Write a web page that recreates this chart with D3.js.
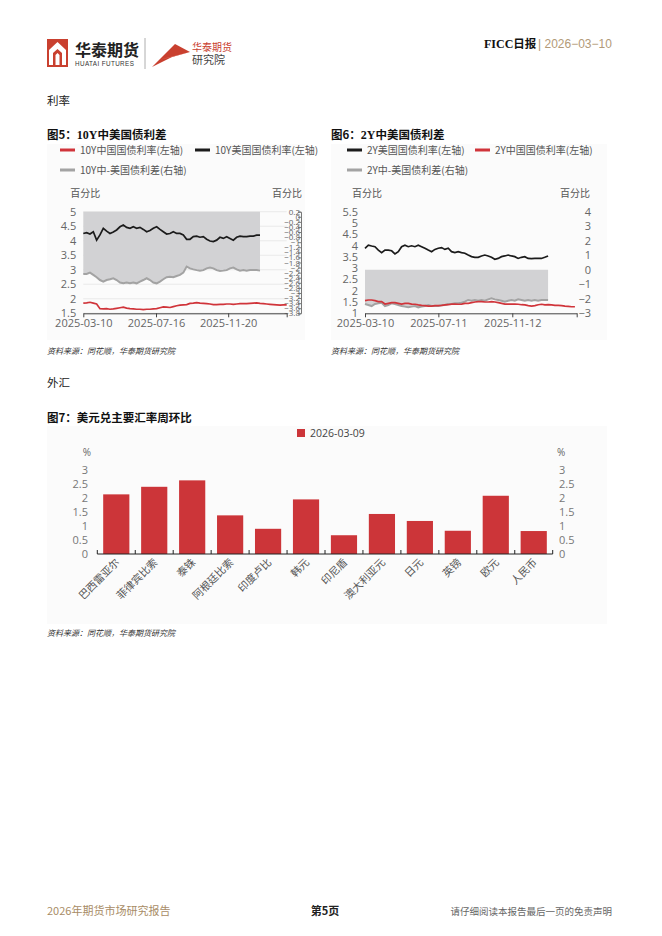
<!DOCTYPE html>
<html>
<head>
<meta charset="utf-8">
<script src="https://cdn.jsdelivr.net/npm/d3@7"></script>
<style>
  body { margin: 0; background: #fff; }
  svg { display: block; }
  .cn { font-family: "Noto Sans CJK SC", "Noto Sans", sans-serif; }
  .num { font-family: "Open Sans", "Noto Sans", sans-serif; }
</style>
</head>
<body>
<svg id="page" width="662" height="936"></svg>
<script>
// ---- data ----
// chart 5: 10Y yields (left axis) and spread (right axis)
const us10 = [4.25,4.28,4.23,4.31,4.02,4.20,4.43,4.33,4.25,4.30,4.37,4.48,4.54,4.46,4.43,4.48,4.43,4.46,4.39,4.31,
  4.35,4.43,4.48,4.39,4.31,4.23,4.25,4.31,4.25,4.25,4.20,4.05,4.05,4.14,4.16,4.12,4.14,4.05,3.99,3.97,
  4.02,4.12,4.08,4.14,4.08,4.02,4.12,4.16,4.14,4.14,4.16,4.16,4.19,4.19];
const cn10 = [1.85,1.86,1.88,1.85,1.82,1.66,1.65,1.66,1.64,1.65,1.67,1.69,1.71,1.68,1.66,1.65,1.64,1.64,1.63,1.64,
  1.64,1.65,1.66,1.69,1.72,1.71,1.70,1.73,1.76,1.78,1.79,1.80,1.84,1.85,1.87,1.85,1.84,1.83,1.82,1.80,
  1.80,1.81,1.81,1.82,1.82,1.81,1.82,1.83,1.83,1.83,1.84,1.85,1.86,1.84,1.83,1.82,1.81,1.80,1.79,1.78,1.79,1.79];
const spread10 = [-2.25,-2.25,-2.20,-2.29,-2.38,-2.49,-2.55,-2.49,-2.46,-2.42,-2.49,-2.59,-2.62,-2.59,-2.62,-2.59,-2.62,-2.55,-2.49,-2.42,
  -2.49,-2.59,-2.62,-2.55,-2.46,-2.38,-2.36,-2.38,-2.33,-2.29,-2.20,-1.96,-2.03,-2.07,-2.10,-2.12,-2.10,-2.03,-2.00,-2.03,
  -2.10,-2.13,-2.12,-2.10,-2.03,-2.00,-2.07,-2.12,-2.10,-2.12,-2.10,-2.10,-2.10,-2.12];
const ticks5 = ["2025-03-10","2025-07-16","2025-11-20"];

// chart 6: 2Y yields (left axis) and spread (right axis)
const us2 = [3.88,4.02,3.98,3.95,3.80,3.69,3.80,3.80,3.77,3.63,3.73,3.95,4.02,3.95,3.99,3.95,4.02,3.95,3.88,3.80,
  3.73,3.83,3.88,3.91,3.83,3.88,3.73,3.69,3.73,3.69,3.66,3.58,3.51,3.48,3.48,3.54,3.58,3.54,3.48,3.39,
  3.43,3.51,3.54,3.58,3.54,3.51,3.43,3.48,3.51,3.43,3.42,3.43,3.43,3.43,3.48,3.54];
const cn2 = [1.56,1.59,1.59,1.56,1.52,1.52,1.41,1.44,1.47,1.47,1.44,1.41,1.44,1.44,1.41,1.40,1.37,1.35,1.34,1.32,
  1.32,1.34,1.34,1.35,1.37,1.38,1.41,1.41,1.40,1.41,1.44,1.44,1.47,1.50,1.52,1.52,1.50,1.50,1.52,1.50,
  1.47,1.44,1.41,1.41,1.41,1.41,1.40,1.38,1.37,1.34,1.32,1.34,1.38,1.40,1.37,1.38,1.37,1.35,1.35,1.34,
  1.32,1.31,1.29,1.29];
const spread2 = [-2.36,-2.43,-2.50,-2.36,-2.31,-2.27,-2.50,-2.43,-2.31,-2.36,-2.43,-2.50,-2.54,-2.59,-2.54,-2.50,-2.59,-2.54,-2.50,-2.43,
  -2.50,-2.50,-2.50,-2.45,-2.43,-2.36,-2.36,-2.31,-2.31,-2.27,-2.20,-2.08,-2.13,-2.08,-2.13,-2.08,-2.13,-2.04,-1.97,-2.04,
  -2.08,-2.13,-2.20,-2.13,-2.08,-2.13,-2.04,-2.08,-2.13,-2.08,-2.13,-2.08,-2.13,-2.08,-2.08,-2.08];
const ticks6 = ["2025-03-10","2025-07-11","2025-11-12"];

// chart 7: weekly change of USD vs major currencies
const currencies = ["巴西雷亚尔","菲律宾比索","泰铢","阿根廷比索","印度卢比","韩元","印尼盾","澳大利亚元","日元","英镑","欧元","人民币"];
const fxChange = [2.13,2.40,2.63,1.38,0.90,1.95,0.67,1.43,1.18,0.83,2.08,0.82];
const fxTicks = [0,0.5,1,1.5,2,2.5,3];

const RED = "#d0343a", BLACK = "#1b1b1b", GREYLINE = "#a3a3a3", AREA = "#d2d2d4";
const parse = d3.timeParse("%Y-%m-%d");
const fmt = d3.timeFormat("%Y-%m-%d");
const svg = d3.select("#page");

// evenly spread a series between two dates
function series(vals, start, end) {
  const s = parse(start), e = parse(end);
  const t = d3.scaleLinear().domain([0, vals.length - 1]).range([s, e]);
  return vals.map((v, i) => ({ d: new Date(t(i)), v: v }));
}

// ---- header ----
const logo = svg.append("g");
logo.append("rect").attr("x", 47).attr("y", 39).attr("width", 21).attr("height", 28).attr("fill", "#c9402f");
logo.append("path").attr("d", "M49,50 L57.5,42 L66,50 L66,65 L62,65 L62,53 L57.5,49 L53,53 L53,65 L49,65 Z").attr("fill", "#fff");
logo.append("path").attr("d", "M55.5,55 L57.5,53 L59.5,55 L59.5,65 L55.5,65 Z").attr("fill", "#fff");
logo.append("text").attr("class", "cn").attr("x", 75).attr("y", 56).attr("font-size", 16).attr("font-weight", 700)
  .attr("fill", "#222").text("华泰期货");
logo.append("text").attr("x", 75).attr("y", 66).attr("font-family", "Liberation Sans, sans-serif").attr("font-size", 6.3)
  .attr("fill", "#333").attr("letter-spacing", 0.4).text("HUATAI FUTURES");
logo.append("line").attr("x1", 145).attr("x2", 145).attr("y1", 38).attr("y2", 69).attr("stroke", "#999").attr("stroke-width", 0.8);
logo.append("path").attr("d", "M152,67 L175,44 L190,52 L172,57 Z").attr("fill", "#c9402f");
logo.append("path").attr("d", "M158,60 L190,52 L172,57 Z").attr("fill", "#e07060");
logo.append("text").attr("class", "cn").attr("x", 192).attr("y", 51).attr("font-size", 10).attr("fill", "#c9402f").text("华泰期货");
logo.append("text").attr("class", "cn").attr("x", 192).attr("y", 64).attr("font-size", 11).attr("fill", "#444").text("研究院");

svg.append("text").attr("x", 484).attr("y", 48).attr("font-size", 12).attr("font-weight", 700)
  .attr("font-family", "Liberation Serif, serif").attr("fill", "#111")
  .call(t => {
    t.append("tspan").text("FICC");
    t.append("tspan").attr("class", "cn").attr("font-size", 11.5).text("日报");
  });
svg.append("text").attr("x", 538).attr("y", 48).attr("font-size", 12).attr("fill", "#b29a78")
  .attr("font-family", "Liberation Sans, sans-serif").text("| 2026−03−10");

// ---- section titles ----
function label(x, y, txt, size, opts) {
  const t = svg.append("text").attr("class", "cn").attr("x", x).attr("y", y).attr("font-size", size)
    .attr("fill", (opts && opts.fill) || "#222").text(txt);
  if (opts && opts.bold) t.attr("font-weight", 700);
  if (opts && opts.anchor) t.attr("text-anchor", opts.anchor);
  if (opts && opts.italic) t.attr("font-style", "italic");
  return t;
}
label(47, 105, "利率", 11.5);
label(47, 387, "外汇", 11.5);

function figTitle(x, y, num, rest) {
  const t = svg.append("text").attr("x", x).attr("y", y).attr("font-size", 11.5).attr("font-weight", 700).attr("fill", "#111");
  t.append("tspan").attr("class", "cn").text("图" + num + "：");
  const m = rest.match(/^([0-9A-Z]*)(.*)$/);
  if (m[1]) t.append("tspan").attr("font-family", "Liberation Serif, serif").attr("font-size", 12).text(m[1]);
  t.append("tspan").attr("class", "cn").text(m[2]);
}
figTitle(47, 139, 5, "10Y中美国债利差");
figTitle(331, 139, 6, "2Y中美国债利差");
figTitle(47, 422, 7, "美元兑主要汇率周环比");

function source(x, y) {
  label(x, y, "资料来源：同花顺，华泰期货研究院", 8, { italic: true, fill: "#333" });
}
source(47, 354);
source(331, 354);
source(47, 636);

// chart backgrounds
svg.append("rect").attr("x", 47).attr("y", 144).attr("width", 258).attr("height", 196).attr("fill", "#fbfbfb");
svg.append("rect").attr("x", 331).attr("y", 144).attr("width", 276).attr("height", 196).attr("fill", "#fbfbfb");
svg.append("rect").attr("x", 47).attr("y", 426).attr("width", 560).attr("height", 198).attr("fill", "#fbfbfb");

function legendItem(x, y, color, txt) {
  svg.append("line").attr("x1", x).attr("x2", x + 15).attr("y1", y).attr("y2", y)
    .attr("stroke", color).attr("stroke-width", 3);
  label(x + 20, y + 3.5, txt, 10, { fill: "#555" });
}

// ---- generic dual-axis line chart ----
function lineChart(o) {
  const g = svg.append("g");
  const x = d3.scaleTime().domain([parse(o.xStart), parse(o.xEnd)]).range([o.x0, o.x1]);
  const yL = d3.scaleLinear().domain(o.leftDomain).range([313.3, 211.7]);
  const yR = d3.scaleLinear().domain(o.rightDomain).range([313.3, 211.7]);

  if (o.grid) {
    g.append("g").selectAll("line").data(o.leftTicks).join("line")
      .attr("x1", o.x0).attr("x2", o.x1).attr("y1", d => yL(d)).attr("y2", d => yL(d))
      .attr("stroke", "#e4e4e4").attr("stroke-width", 0.8);
  }

  const sp = o.spread;
  g.append("path").datum(sp)
    .attr("d", d3.area().x(d => x(d.d)).y0(yR(o.areaTop)).y1(d => yR(d.v)))
    .attr("fill", AREA);
  g.append("path").datum(sp)
    .attr("d", d3.line().x(d => x(d.d)).y(d => yR(d.v)))
    .attr("fill", "none").attr("stroke", GREYLINE).attr("stroke-width", 2);

  o.lines.forEach(l => {
    g.append("path").datum(l.data)
      .attr("d", d3.line().x(d => x(d.d)).y(d => yL(d.v)))
      .attr("fill", "none").attr("stroke", l.color).attr("stroke-width", 1.7);
  });

  // left axis
  const la = g.append("g").attr("transform", `translate(${o.x0 - 4},0)`).attr("color", "#666")
    .call(d3.axisLeft(yL).tickValues(o.leftTicks).tickSize(0).tickFormat(d3.format("~g")));
  la.select(".domain").remove();
  la.selectAll("text").attr("class", "num").attr("font-size", 11).attr("fill", "#666");

  // right axis
  const ra = g.append("g").attr("transform", `translate(${o.rightX},0)`).attr("color", "#666")
    .call(d3.axisLeft(yR).tickValues(o.rightTicks).tickSize(o.rightTickSize).tickPadding(1)
      .tickFormat(d3.format("~g")));
  ra.select(".domain").attr("stroke", o.rightTickSize ? "#777" : "none");
  ra.selectAll("line").attr("stroke", "#777");
  ra.selectAll("text").attr("class", "num").attr("font-size", o.rightFont).attr("fill", "#666")
    .attr("text-anchor", "end").attr("x", o.rightTextX);

  // bottom axis
  const ba = g.append("g").attr("transform", "translate(0,313.3)").attr("color", "#444")
    .call(d3.axisBottom(x).tickValues(o.xTicks.map(parse).concat([parse(o.xEnd)])).tickSize(4).tickSizeOuter(0)
      .tickFormat(d => o.xTicks.includes(fmt(d)) ? fmt(d) : ""));
  ba.select(".domain").attr("stroke", "#444");
  ba.selectAll("line").attr("stroke", "#444");
  ba.selectAll("text").attr("class", "num").attr("font-size", 11).attr("fill", "#666").attr("dy", "0.6em");

  label(o.x0 - 13, 197, "百分比", 10, { fill: "#555" });
  label(o.rightLabelX, 197, "百分比", 10, { fill: "#555" });
}

legendItem(60, 150, RED, "10Y中国国债利率(左轴)");
legendItem(195, 150, BLACK, "10Y美国国债利率(左轴)");
legendItem(60, 170, GREYLINE, "10Y中-美国债利差(右轴)");

lineChart({
  xStart: "2025-03-10", xEnd: "2026-03-03", x0: 83.3, x1: 286.7,
  leftDomain: [1.5, 5], leftTicks: [1.5, 2, 2.5, 3, 3.5, 4, 4.5, 5],
  rightDomain: [-3.8, 0.2], rightTicks: d3.range(-3.8, 0.21, 0.2).map(v => +v.toFixed(1)),
  rightX: 301, rightTickSize: 3, rightTextX: -1, rightFont: 8, rightLabelX: 272,
  areaTop: 0.2, grid: true, xTicks: ticks5,
  spread: series(spread10, "2025-03-10", "2026-01-15"),
  lines: [
    { data: series(cn10, "2025-03-10", "2026-03-03"), color: RED },
    { data: series(us10, "2025-03-10", "2026-01-15"), color: BLACK }
  ]
});

legendItem(347, 150, BLACK, "2Y美国国债利率(左轴)");
legendItem(475, 150, RED, "2Y中国国债利率(左轴)");
legendItem(347, 170, GREYLINE, "2Y中-美国债利差(右轴)");

lineChart({
  xStart: "2025-03-10", xEnd: "2026-02-28", x0: 365, x1: 576.7,
  leftDomain: [1, 5.5], leftTicks: [1, 1.5, 2, 2.5, 3, 3.5, 4, 4.5, 5, 5.5],
  rightDomain: [-3, 4], rightTicks: [-3, -2, -1, 0, 1, 2, 3, 4],
  rightX: 592, rightTickSize: 0, rightTextX: -1, rightFont: 11, rightLabelX: 560,
  areaTop: 0, grid: false, xTicks: ticks6,
  spread: series(spread2, "2025-03-10", "2026-01-11"),
  lines: [
    { data: series(cn2, "2025-03-10", "2026-02-25"), color: RED },
    { data: series(us2, "2025-03-10", "2026-01-11"), color: BLACK }
  ]
});

// ---- chart 7: bars ----
const bx = d3.scaleBand().domain(currencies).range([97.3, 552.7]).paddingInner(0.31).paddingOuter(0.155);
const by = d3.scaleLinear().domain([0, 3]).range([554, 470]);
const bg = svg.append("g");
bg.selectAll("rect").data(currencies).join("rect")
  .attr("x", d => bx(d)).attr("width", bx.bandwidth())
  .attr("y", (d, i) => by(fxChange[i])).attr("height", (d, i) => by(0) - by(fxChange[i]))
  .attr("fill", "#cc3539");

const step = bx.step();
const bottom = bg.append("g").attr("transform", "translate(0,554)");
bottom.append("line").attr("x1", 97.3).attr("x2", 552.7).attr("stroke", "#222").attr("stroke-width", 1);
bottom.selectAll("line.tk").data(d3.range(currencies.length + 1)).join("line").attr("class", "tk")
  .attr("x1", i => 97.3 + i * step).attr("x2", i => 97.3 + i * step).attr("y1", -4).attr("y2", 0)
  .attr("stroke", "#222");
bottom.selectAll("text").data(currencies).join("text")
  .attr("class", "cn").attr("font-size", 10.5).attr("fill", "#555").attr("text-anchor", "end")
  .attr("transform", d => `translate(${bx(d) + bx.bandwidth() / 2 + 4},${9}) rotate(-45)`)
  .text(d => d);

const lax = bg.append("g").attr("transform", "translate(91,0)").attr("color", "#777")
  .call(d3.axisLeft(by).tickValues(fxTicks).tickSize(0).tickFormat(d3.format("~g")));
lax.select(".domain").remove();
lax.selectAll("text").attr("class", "num").attr("font-size", 11).attr("fill", "#777");
const rax = bg.append("g").attr("transform", "translate(556,0)").attr("color", "#777")
  .call(d3.axisRight(by).tickValues(fxTicks).tickSize(0).tickFormat(d3.format("~g")));
rax.select(".domain").remove();
rax.selectAll("text").attr("class", "num").attr("font-size", 11).attr("fill", "#777");
svg.append("text").attr("class", "num").attr("x", 91).attr("y", 456).attr("text-anchor", "end")
  .attr("font-size", 10).attr("fill", "#666").text("%");
svg.append("text").attr("class", "num").attr("x", 557).attr("y", 456)
  .attr("font-size", 10).attr("fill", "#666").text("%");

svg.append("rect").attr("x", 297).attr("y", 429).attr("width", 8).attr("height", 8).attr("fill", "#cc3539");
svg.append("text").attr("class", "num").attr("x", 310).attr("y", 437).attr("font-size", 10.5).attr("fill", "#444").text("2026-03-09");

// ---- footer ----
svg.append("text").attr("x", 47).attr("y", 915).attr("font-size", 11).attr("fill", "#a88c66")
  .attr("font-family", "Noto Sans CJK SC, serif").text("2026年期货市场研究报告");
label(325, 915, "第5页", 11, { anchor: "middle", bold: true, fill: "#222" });
label(612, 915, "请仔细阅读本报告最后一页的免责声明", 9.5, { anchor: "end", fill: "#666" });
</script>
</body>
</html>
